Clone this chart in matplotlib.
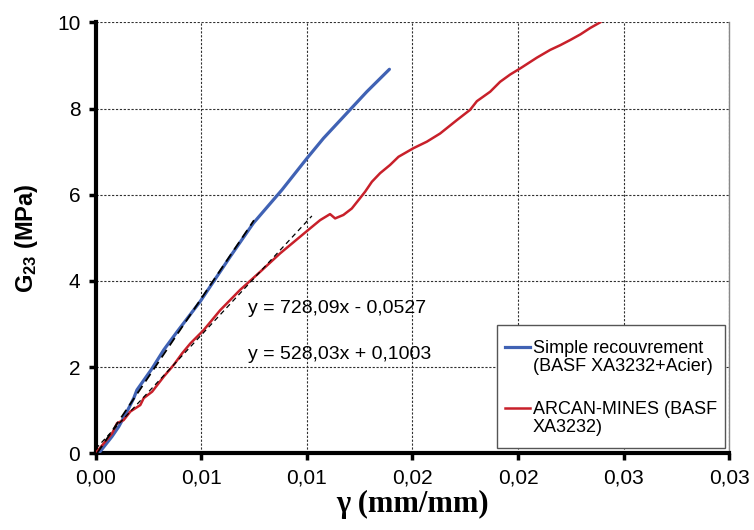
import numpy as np
import matplotlib
matplotlib.use('Agg')
import matplotlib.pyplot as plt
from matplotlib.lines import Line2D
from matplotlib.patches import Rectangle

plt.rcParams['font.family'] = ['Liberation Sans', 'DejaVu Sans']
plt.rcParams['mathtext.fontset'] = 'custom'
plt.rcParams['mathtext.rm'] = 'Liberation Sans'
plt.rcParams['mathtext.bf'] = 'Liberation Sans:bold'
plt.rcParams['mathtext.it'] = 'Liberation Sans:italic'

# Simple recouvrement (BASF XA3232+Acier)
blue_x = [0.0, 0.00015, 0.00078, 0.0011, 0.00149, 0.00181, 0.00196, 0.00268, 0.00323,
          0.00386, 0.00495, 0.00637, 0.00747, 0.00882, 0.0100, 0.01079, 0.0121,
          0.01284, 0.01391]
blue_y = [0.0, 0.0, 0.39, 0.62, 0.97, 1.28, 1.47, 1.97, 2.40,
          2.82, 3.52, 4.56, 5.34, 6.11, 6.84, 7.31, 8.0,
          8.39, 8.91]

# ARCAN-MINES (BASF XA3232)
red_x = [0.0, 0.00039, 0.00078, 0.00102, 0.00133, 0.00165, 0.00212, 0.00228, 0.00268,
         0.00323, 0.0037, 0.0041, 0.00449, 0.00512, 0.0059, 0.00684, 0.00779,
         0.00874, 0.01016, 0.01063, 0.0111, 0.01134, 0.01173, 0.01213, 0.01252,
         0.01276, 0.01308, 0.01347, 0.01394, 0.01434, 0.01505, 0.01568, 0.01631,
         0.0171, 0.01773, 0.01805, 0.01868, 0.01915, 0.01963, 0.0201, 0.02089,
         0.02152, 0.022, 0.02247, 0.02295, 0.02342, 0.02389]
red_y = [0.0, 0.23, 0.46, 0.70, 0.77, 0.97, 1.12, 1.28, 1.43,
         1.78, 2.05, 2.32, 2.55, 2.86, 3.32, 3.79, 4.21,
         4.64, 5.22, 5.41, 5.55, 5.45, 5.53, 5.68, 5.92,
         6.07, 6.30, 6.50, 6.69, 6.88, 7.08, 7.23, 7.42,
         7.73, 7.97, 8.17, 8.39, 8.62, 8.79, 8.93, 9.18,
         9.36, 9.47, 9.59, 9.72, 9.87, 10.0]

# linear fits shown on the chart
blue_fit = (728.09, -0.0527)
red_fit = (528.03, 0.1003)
blue_fit_range = [0.0000724, 0.0075]
red_fit_range = [0.0, 0.01024]

x_ticks = [0.0, 0.005, 0.010, 0.015, 0.020, 0.025, 0.030]
x_tick_labels = ['0,00', '0,01', '0,01', '0,02', '0,02', '0,03', '0,03']
y_ticks = [0, 2, 4, 6, 8, 10]

blue_col = '#4062B4'
red_col = '#C8202A'

fig = plt.figure(figsize=(7.54, 5.30), dpi=100)
ax = fig.add_axes([0.1267, 0.1447, 0.8406, 0.8132])

ax.plot(blue_x, blue_y, color=blue_col, lw=2.3, solid_capstyle='round', zorder=3)
ax.plot(red_x, red_y, color=red_col, lw=1.8, zorder=3)

xb = np.array(blue_fit_range)
ax.plot(xb, blue_fit[0] * xb + blue_fit[1], color='black', lw=1.3,
        linestyle=(0, (5, 3)), zorder=4)
xr = np.array(red_fit_range)
ax.plot(xr, red_fit[0] * xr + red_fit[1], color='black', lw=0.9,
        linestyle=(0, (4, 3)), zorder=4)

ax.text(0.00722, 3.35, 'y = 728,09x - 0,0527', fontsize=14, va='center', ha='left')
ax.text(0.00722, 2.30, 'y = 528,03x + 0,1003', fontsize=14, va='center', ha='left')

ax.set_xlim(0, 0.030)
ax.set_ylim(0, 10)
ax.set_xticks(x_ticks)
ax.set_xticklabels(x_tick_labels)
ax.set_yticks(y_ticks)
ax.tick_params(axis='both', labelsize=15, width=2.5, length=5, direction='out',
               color='black', pad=6)

ax.grid(True, color='#303030', linestyle=(0, (2, 1.5)), lw=0.8)
ax.set_axisbelow(True)

ax.spines['left'].set_linewidth(3)
ax.spines['bottom'].set_linewidth(3)
ax.spines['top'].set_visible(False)
ax.spines['right'].set_color('#888888')
ax.spines['right'].set_linewidth(1)

ax.set_xlabel('γ (mm/mm)', family=['Liberation Serif', 'DejaVu Serif'],
              fontsize=22, fontweight='bold', labelpad=2)
ax.set_ylabel(r'$\mathbf{G_{23}}$ (MPa)', fontsize=17, fontweight='bold', labelpad=12)

# legend box drawn by hand so the handles sit on the first line of each label
def fx(px):
    return (px - 95.5) / (729.3 - 95.5)

def fy(py):
    return (453.3 - py) / (453.3 - 22.3)

ax.add_patch(Rectangle((fx(497), fy(448)), fx(725) - fx(497), fy(325) - fy(448),
                       transform=ax.transAxes, facecolor='white', edgecolor='#555555',
                       lw=1, zorder=5))
ax.add_line(Line2D([fx(505), fx(530)], [fy(346.5), fy(346.5)], transform=ax.transAxes,
                   color=blue_col, lw=2.3, zorder=6))
ax.add_line(Line2D([fx(505), fx(530)], [fy(407.5), fy(407.5)], transform=ax.transAxes,
                   color=red_col, lw=1.8, zorder=6))
ax.text(fx(533), fy(357.5), 'Simple recouvrement\n(BASF XA3232+Acier)', transform=ax.transAxes,
        fontsize=13, va='center', ha='left', linespacing=1.15, zorder=6)
ax.text(fx(533), fy(418.5), 'ARCAN-MINES (BASF\nXA3232)', transform=ax.transAxes,
        fontsize=13, va='center', ha='left', linespacing=1.15, zorder=6)

fig.savefig('out.png', dpi=100)
